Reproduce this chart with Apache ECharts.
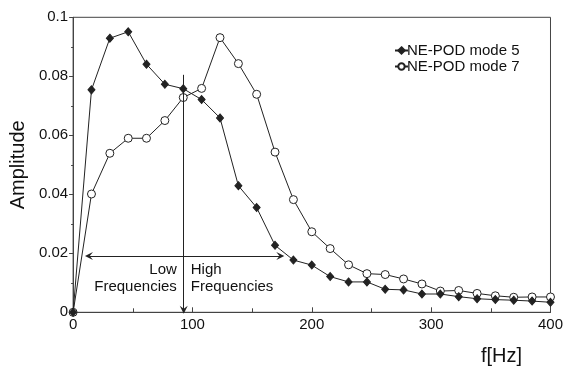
<!DOCTYPE html>
<html><head><meta charset="utf-8">
<script src="https://cdn.jsdelivr.net/npm/echarts@6/dist/echarts.min.js"></script>
<style>html,body{margin:0;padding:0;background:#fff}#c{width:566px;height:367px}</style>
</head><body><div id="c"></div>
<script>
const freq = [0, 15.4, 30.8, 46.2, 61.5, 76.9, 92.3, 107.7, 123.1, 138.5, 153.8, 169.2, 184.6, 200, 215.4, 230.8, 246.2, 261.5, 276.9, 292.3, 307.7, 323.1, 338.5, 353.8, 369.2, 384.6, 400];
const mode5 = [0, 0.0754, 0.0929, 0.0951, 0.0841, 0.0773, 0.0758, 0.0721, 0.0659, 0.0429, 0.0355, 0.0227, 0.0177, 0.0160, 0.0121, 0.0103, 0.0103, 0.0078, 0.0076, 0.0062, 0.0062, 0.0053, 0.0046, 0.0043, 0.0041, 0.0038, 0.0034];
const mode7 = [0, 0.0401, 0.0539, 0.0590, 0.0590, 0.0650, 0.0728, 0.0759, 0.0931, 0.0843, 0.0739, 0.0543, 0.0382, 0.0273, 0.0216, 0.0161, 0.0131, 0.0128, 0.0113, 0.0096, 0.0072, 0.0074, 0.0064, 0.0056, 0.0051, 0.0052, 0.0052];
const seriesNames = ['NE-POD mode 5', 'NE-POD mode 7'];
const splitFreq = 92.7;
const arrowTop = 0.0805;
const bandY = 0.0191;
const bandFrom = 13.3, bandTo = 173.6;

const font = 'Liberation Sans, Arial, Helvetica, sans-serif';
const ink = '#222';
const chev = 'path://M5,0 L10,10 L5,6 L0,10 Z';

const chart = echarts.init(document.getElementById('c'));
chart.setOption({
  animation: false,
  textStyle: {fontFamily: font},
  grid: {left: 71.7, right: 13.7, top: 17.3, bottom: 54.7, show: true, borderColor: '#444', borderWidth: 1},
  legend: {
    data: seriesNames, orient: 'vertical', left: 389, top: 38, itemGap: 1,
    itemWidth: 13, itemHeight: 8,
    textStyle: {fontSize: 15, color: '#111', fontFamily: font, padding: [0,0,0,-6]}
  },
  xAxis: {
    type: 'value', min: 0, max: 400, interval: 100,
    axisLine: {lineStyle: {color: '#444'}},
    axisTick: {inside: true, length: 5, lineStyle: {color: '#444'}},
    minorTick: {show: true, splitNumber: 2, length: 4, lineStyle: {color: '#444'}},
    splitLine: {show: false},
    axisLabel: {color: '#111', fontSize: 15, margin: 5, fontFamily: font}
  },
  yAxis: {
    type: 'value', min: 0, max: 0.1, interval: 0.02,
    axisLine: {show: true, lineStyle: {color: '#444'}},
    axisTick: {show: true, inside: false, length: 4, lineStyle: {color: '#444'}},
    minorTick: {show: true, splitNumber: 2, length: 2, lineStyle: {color: '#444'}},
    splitLine: {show: false},
    axisLabel: {color: '#111', fontSize: 15, margin: 5, fontFamily: font},
    name: 'Amplitude', nameLocation: 'middle', nameGap: 36, nameRotate: 90,
    nameTextStyle: {fontSize: 20, color: '#111', fontFamily: font}
  },
  graphic: [{type: 'text', left: 481, top: 346, style: {text: 'f[Hz]', fontSize: 20, fill: '#111', fontFamily: font}}],
  series: [
    {
      name: seriesNames[0], type: 'line', data: freq.map((f, i) => [f, mode5[i]]),
      symbol: 'diamond', symbolSize: [7, 8], showAllSymbol: true,
      lineStyle: {color: ink, width: 1}, itemStyle: {color: ink, borderColor: ink, borderWidth: 1},
      z: 3,
      markLine: {
        silent: true, symbolSize: 8,
        lineStyle: {color: ink, width: 1, type: 'solid'},
        label: {show: false},
        data: [
          [{coord: [splitFreq, arrowTop], symbol: 'none'}, {coord: [splitFreq, 0.0009], symbol: chev}],
          [{coord: [bandFrom, bandY], symbol: chev}, {coord: [bandTo, bandY], symbol: chev}]
        ]
      },
      markPoint: {
        silent: true, symbol: 'circle', symbolSize: 0,
        label: {show: true, fontSize: 15, color: '#111', lineHeight: 17, fontFamily: font},
        data: [
          {coord: [86.9, 0.0171], label: {formatter: 'Low\nFrequencies', position: [0, 0], align: 'right', verticalAlign: 'top'}},
          {coord: [98.6, 0.0171], label: {formatter: 'High\nFrequencies', position: [0, 0], align: 'left', verticalAlign: 'top'}}
        ]
      }
    },
    {
      name: seriesNames[1], type: 'line', data: freq.map((f, i) => [f, mode7[i]]),
      symbol: 'circle', symbolSize: 8, showAllSymbol: true,
      lineStyle: {color: ink, width: 1}, itemStyle: {color: '#fff', borderColor: ink, borderWidth: 1},
      z: 2
    }
  ]
});
</script></body></html>
